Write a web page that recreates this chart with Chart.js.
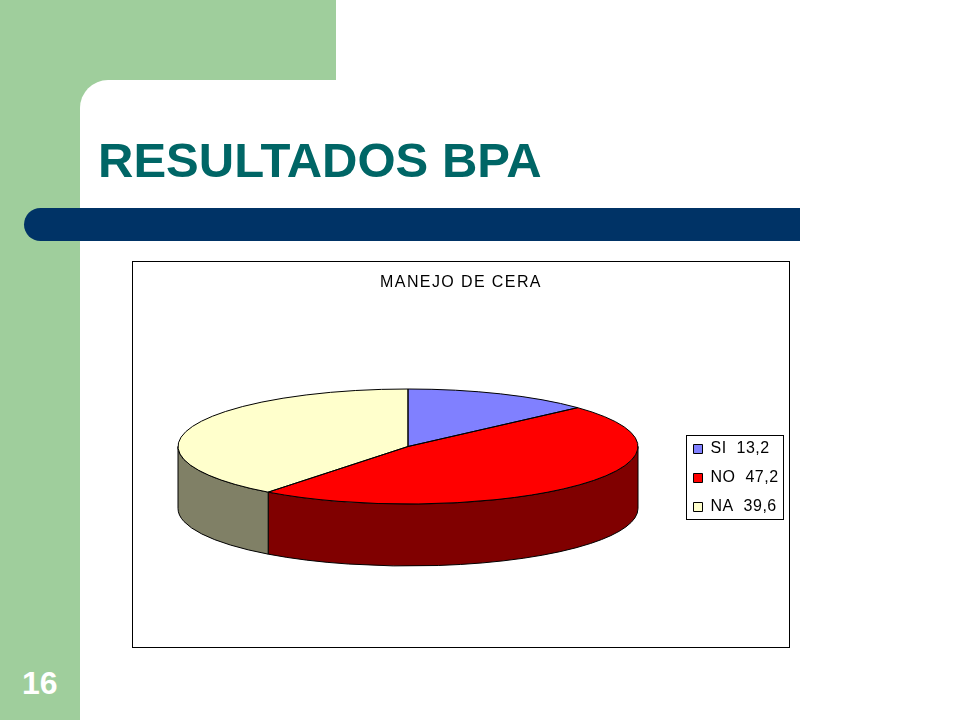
<!DOCTYPE html>
<html lang="es">
<head>
<meta charset="utf-8">
<title>RESULTADOS BPA</title>
<script src="https://cdn.jsdelivr.net/npm/chart.js@4"></script>
<style>
	html, body { margin: 0; padding: 0; background: #fff; }
	#slide { position: relative; width: 960px; height: 720px; overflow: hidden; background: #fff; font-family: "Liberation Sans", Arial, sans-serif; }
	#band-left { position: absolute; left: 0; top: 0; width: 80px; height: 720px; background: #9fce9c; }
	#band-top { position: absolute; left: 0; top: 0; width: 336px; height: 80px; background: #9fce9c; }
	#corner { position: absolute; left: 80px; top: 80px; width: 60px; height: 60px; background: #fff; border-top-left-radius: 28px; }
	#corner-bg { position: absolute; left: 80px; top: 80px; width: 30px; height: 30px; background: #9fce9c; }
	#heading { position: absolute; left: 98px; top: 133px; margin: 0; font-size: 49px; line-height: 54px; font-weight: bold; color: #006666; white-space: nowrap; }
	#bar { position: absolute; left: 24px; top: 208px; width: 776px; height: 33px; background: #003366; border-radius: 17px 0 0 17px; }
	#page { position: absolute; left: 22px; top: 664px; font-size: 32px; line-height: 38px; font-weight: bold; color: #fff; }
	#frame { position: absolute; left: 132px; top: 261px; width: 656px; height: 385px; border: 1px solid #000; background: #fff; }
	#chart { display: block; }
</style>
</head>
<body>
<div id="slide">
	<div id="band-left"></div>
	<div id="band-top"></div>
	<div id="corner-bg"></div>
	<div id="corner"></div>
	<h1 id="heading">RESULTADOS BPA</h1>
	<div id="bar"></div>
	<div id="page">16</div>
	<div id="frame"><canvas id="chart" width="656" height="385"></canvas></div>
</div>
<script>
// datos
const CATEGORIES = ["SI", "NO", "NA"];
const VALUES = [13.2, 47.2, 39.6];
const VALUE_LABELS = ["13,2", "47,2", "39,6"];
const TOP_COLORS = ["#8080ff", "#ff0000", "#ffffcc"];
const WALL_COLORS = ["#40407f", "#800000", "#808066"];
const CHART_TITLE = "MANEJO DE CERA";

// geometria de la torta "3D" (en px del canvas)
const PIE = { cx: 275, cy: 184.5, rx: 230, ry: 57.5, depth: 62 };
const LEGEND_BOX = { x: 553.5, y: 173.5, w: 97, h: 84 };

// letter spacing para un bloque de Chart.js
function spaced(box, spacing) {
	const draw = box.draw;
	box.draw = function (...args) {
		const ctx = this.ctx;
		ctx.save();
		ctx.letterSpacing = spacing;
		draw.apply(this, args);
		ctx.restore();
	};
	box._spaced = true;
}

const pie3d = {
	id: 'pie3d',
	afterLayout(chart) {
		// la leyenda va en un lugar fijo, como en el original
		const lg = chart.legend;
		lg.left = 547.5;
		lg.right = 650;
		lg.top = 166;
		lg.bottom = 270;
		if (!lg._spaced) spaced(lg, '0.5px');
		if (!chart.titleBlock._spaced) spaced(chart.titleBlock, '1.4px');
	},
	beforeDatasetDraw(chart, args) {
		const ctx = chart.ctx;
		const arcs = args.meta.data;

		// paredes: solo la mitad frontal de la elipse
		ctx.save();
		ctx.lineWidth = 1;
		ctx.strokeStyle = '#000';
		arcs.forEach((arc, i) => {
			const a1 = Math.max(arc.startAngle, 0);
			const a2 = Math.min(arc.endAngle, Math.PI);
			if (a2 <= a1) return;
			ctx.beginPath();
			ctx.ellipse(PIE.cx, PIE.cy, PIE.rx, PIE.ry, 0, a1, a2);
			ctx.ellipse(PIE.cx, PIE.cy + PIE.depth, PIE.rx, PIE.ry, 0, a2, a1, true);
			ctx.closePath();
			ctx.fillStyle = WALL_COLORS[i];
			ctx.fill();
			ctx.stroke();
		});
		ctx.restore();

		// tapa: los arcos de Chart.js aplastados a la elipse
		arcs.forEach((arc) => {
			ctx.save();
			ctx.translate(PIE.cx, PIE.cy);
			ctx.scale(PIE.rx / arc.outerRadius, PIE.ry / arc.outerRadius);
			ctx.translate(-arc.x, -arc.y);
			arc.draw(ctx);
			ctx.restore();
		});

		// contornos con grosor parejo
		ctx.save();
		ctx.lineWidth = 1;
		ctx.strokeStyle = '#000';
		arcs.forEach((arc) => {
			ctx.beginPath();
			ctx.moveTo(PIE.cx, PIE.cy);
			ctx.ellipse(PIE.cx, PIE.cy, PIE.rx, PIE.ry, 0, arc.startAngle, arc.endAngle);
			ctx.closePath();
			ctx.stroke();
		});
		ctx.restore();
		return false;
	},
	afterDraw(chart) {
		const ctx = chart.ctx;
		ctx.save();
		ctx.lineWidth = 1;
		ctx.strokeStyle = '#000';
		ctx.strokeRect(LEGEND_BOX.x, LEGEND_BOX.y, LEGEND_BOX.w, LEGEND_BOX.h);
		ctx.restore();
	}
};

new Chart(document.getElementById('chart'), {
	type: 'pie',
	data: {
		labels: CATEGORIES,
		datasets: [{ data: VALUES, backgroundColor: TOP_COLORS, borderWidth: 0 }]
	},
	options: {
		responsive: false,
		animation: false,
		plugins: {
			tooltip: { enabled: false },
			title: {
				display: true,
				text: CHART_TITLE,
				color: '#000',
				font: { family: '"Liberation Sans"', size: 16, weight: 'normal' },
				padding: { top: 11, bottom: 8 }
			},
			legend: {
				position: 'right',
				align: 'start',
				labels: {
					boxWidth: 9,
					boxHeight: 9,
					padding: 13,
					color: '#000',
					font: { family: '"Liberation Sans"', size: 16 },
					generateLabels: () => CATEGORIES.map((c, i) => ({
						text: `${c}  ${VALUE_LABELS[i]}`,
						fillStyle: TOP_COLORS[i],
						strokeStyle: '#000',
						lineWidth: 1,
						fontColor: '#000',
						hidden: false,
						index: i
					}))
				}
			}
		}
	},
	plugins: [pie3d]
});
</script>
</body>
</html>
